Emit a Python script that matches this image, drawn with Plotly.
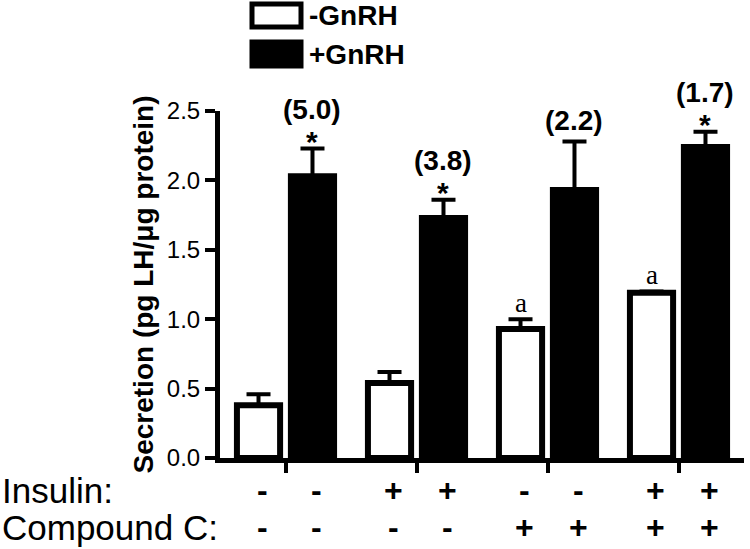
import plotly.graph_objects as go

# groups: Insulin / Compound C treatment combos
groups = [0, 1, 2, 3]
insulin_signs = ["-", "+", "-", "+"]
compound_c_signs = ["-", "-", "+", "+"]

minus_gnrh = [0.38, 0.54, 0.93, 1.19]
minus_gnrh_se = [0.08, 0.08, 0.07, 0.01]
plus_gnrh = [2.03, 1.73, 1.93, 2.24]
plus_gnrh_se = [0.20, 0.13, 0.35, 0.11]

fold_labels = ["(5.0)", "(3.8)", "(2.2)", "(1.7)"]
star_marks = [True, True, False, True]
a_marks = [False, False, True, True]

y_ticks = [0.0, 0.5, 1.0, 1.5, 2.0, 2.5]

FONT = "Arial, Liberation Sans, sans-serif"
SERIF = "Times New Roman, Liberation Serif, serif"

W, H = 750, 549
M_L, M_R, M_T, M_B = 220, 6, 111, 91
PLOT_W = W - M_L - M_R
PLOT_H = H - M_T - M_B
BAR_OFFSET = 0.206


def px_x(px):
    return (px - M_L) / PLOT_W


def px_y(py):
    return (H - M_B - py) / PLOT_H


fig = go.Figure()
fig.add_trace(go.Bar(
    name="-GnRH", x=groups, y=minus_gnrh,
    marker=dict(color="white", line=dict(color="black", width=6)),
    error_y=dict(type="data", symmetric=False, array=minus_gnrh_se,
                 arrayminus=[0] * 4, color="black", thickness=4, width=12),
    cliponaxis=False,
))
fig.add_trace(go.Bar(
    name="+GnRH", x=groups, y=plus_gnrh,
    marker=dict(color="black", line=dict(color="black", width=6)),
    error_y=dict(type="data", symmetric=False, array=plus_gnrh_se,
                 arrayminus=[0] * 4, color="black", thickness=4, width=12),
    cliponaxis=False,
))

annotations = []
for g, val, se, lab, star in zip(groups, plus_gnrh, plus_gnrh_se, fold_labels, star_marks):
    top = val + se
    annotations.append(dict(
        x=g + BAR_OFFSET, y=top, xref="x", yref="y", text=lab, showarrow=False,
        font=dict(family=FONT, size=28, color="black", weight="bold"),
        yanchor="middle", yshift=39 if star else 21,
    ))
    if star:
        annotations.append(dict(
            x=g + BAR_OFFSET, y=top, xref="x", yref="y", text="*", showarrow=False,
            font=dict(family=FONT, size=30, color="black", weight="bold"),
            yanchor="middle", yshift=7,
        ))

for g, val, se, mark in zip(groups, minus_gnrh, minus_gnrh_se, a_marks):
    if mark:
        annotations.append(dict(
            x=g - BAR_OFFSET, y=val + se, xref="x", yref="y", text="a", showarrow=False,
            font=dict(family=SERIF, size=27, color="black"),
            yanchor="middle", yshift=16,
        ))

# treatment rows under the axis
for row_label, signs, shift in [("Insulin:", insulin_signs, -32),
                                 ("Compound C:", compound_c_signs, -69)]:
    annotations.append(dict(
        x=px_x(0), y=0, xref="paper", yref="paper", text=row_label, showarrow=False,
        font=dict(family=FONT, size=35, color="black"),
        xanchor="left", yanchor="middle", yshift=shift,
    ))
    for g, s in zip(groups, signs):
        for off in (-BAR_OFFSET, BAR_OFFSET):
            annotations.append(dict(
                x=g + off, y=0, xref="x", yref="paper", text=s, showarrow=False,
                font=dict(family=FONT, size=32, color="black", weight="bold"),
                yanchor="middle", yshift=shift, xshift=4,
            ))

# y title
annotations.append(dict(
    x=px_x(143), y=0.5, xref="paper", yref="paper",
    text="Secretion (pg LH/\u03bcg protein)", textangle=-90, showarrow=False,
    font=dict(family=FONT, size=28, color="black", weight="bold"),
    xanchor="center", yanchor="middle",
))

# legend
shapes = []
for (top_px, bot_px, fill, lab, text_y) in [(4, 27, "white", "-GnRH", 15),
                                            (42, 66, "black", "+GnRH", 54)]:
    shapes.append(dict(
        type="rect", xref="paper", yref="paper",
        x0=px_x(252), x1=px_x(301), y0=px_y(bot_px), y1=px_y(top_px),
        fillcolor=fill, line=dict(color="black", width=5),
    ))
    annotations.append(dict(
        x=px_x(307), y=px_y(text_y), xref="paper", yref="paper", text=lab,
        showarrow=False, xanchor="left", yanchor="middle",
        font=dict(family=FONT, size=28, color="black", weight="bold"),
    ))

fig.update_layout(
    width=W, height=H,
    margin=dict(l=M_L, r=M_R, t=M_T, b=M_B),
    barmode="group", bargap=0.176, bargroupgap=0.2,
    plot_bgcolor="white", paper_bgcolor="white",
    showlegend=False,
    annotations=annotations, shapes=shapes,
    font=dict(family=FONT, color="black"),
)
fig.update_xaxes(
    range=[-0.5, 3.5], tickvals=groups, showticklabels=False,
    showline=True, linecolor="black", linewidth=5,
    ticks="outside", ticklen=10, tickwidth=4, tickcolor="black",
    showgrid=False, zeroline=False, automargin=False,
)
fig.update_yaxes(
    range=[0, 2.5], tickvals=y_ticks, tickformat=".1f",
    showline=True, linecolor="black", linewidth=5,
    ticks="outside", ticklen=10, tickwidth=4, tickcolor="black",
    tickfont=dict(family=FONT, size=24, color="black"),
    showgrid=False, zeroline=False, automargin=False,
)

# page body has a default 8px margin; drop it so the figure sits at the corner
fig.write_html(
    "out.html",
    config={"displayModeBar": False},
    post_script="document.body.style.margin='0';",
)
